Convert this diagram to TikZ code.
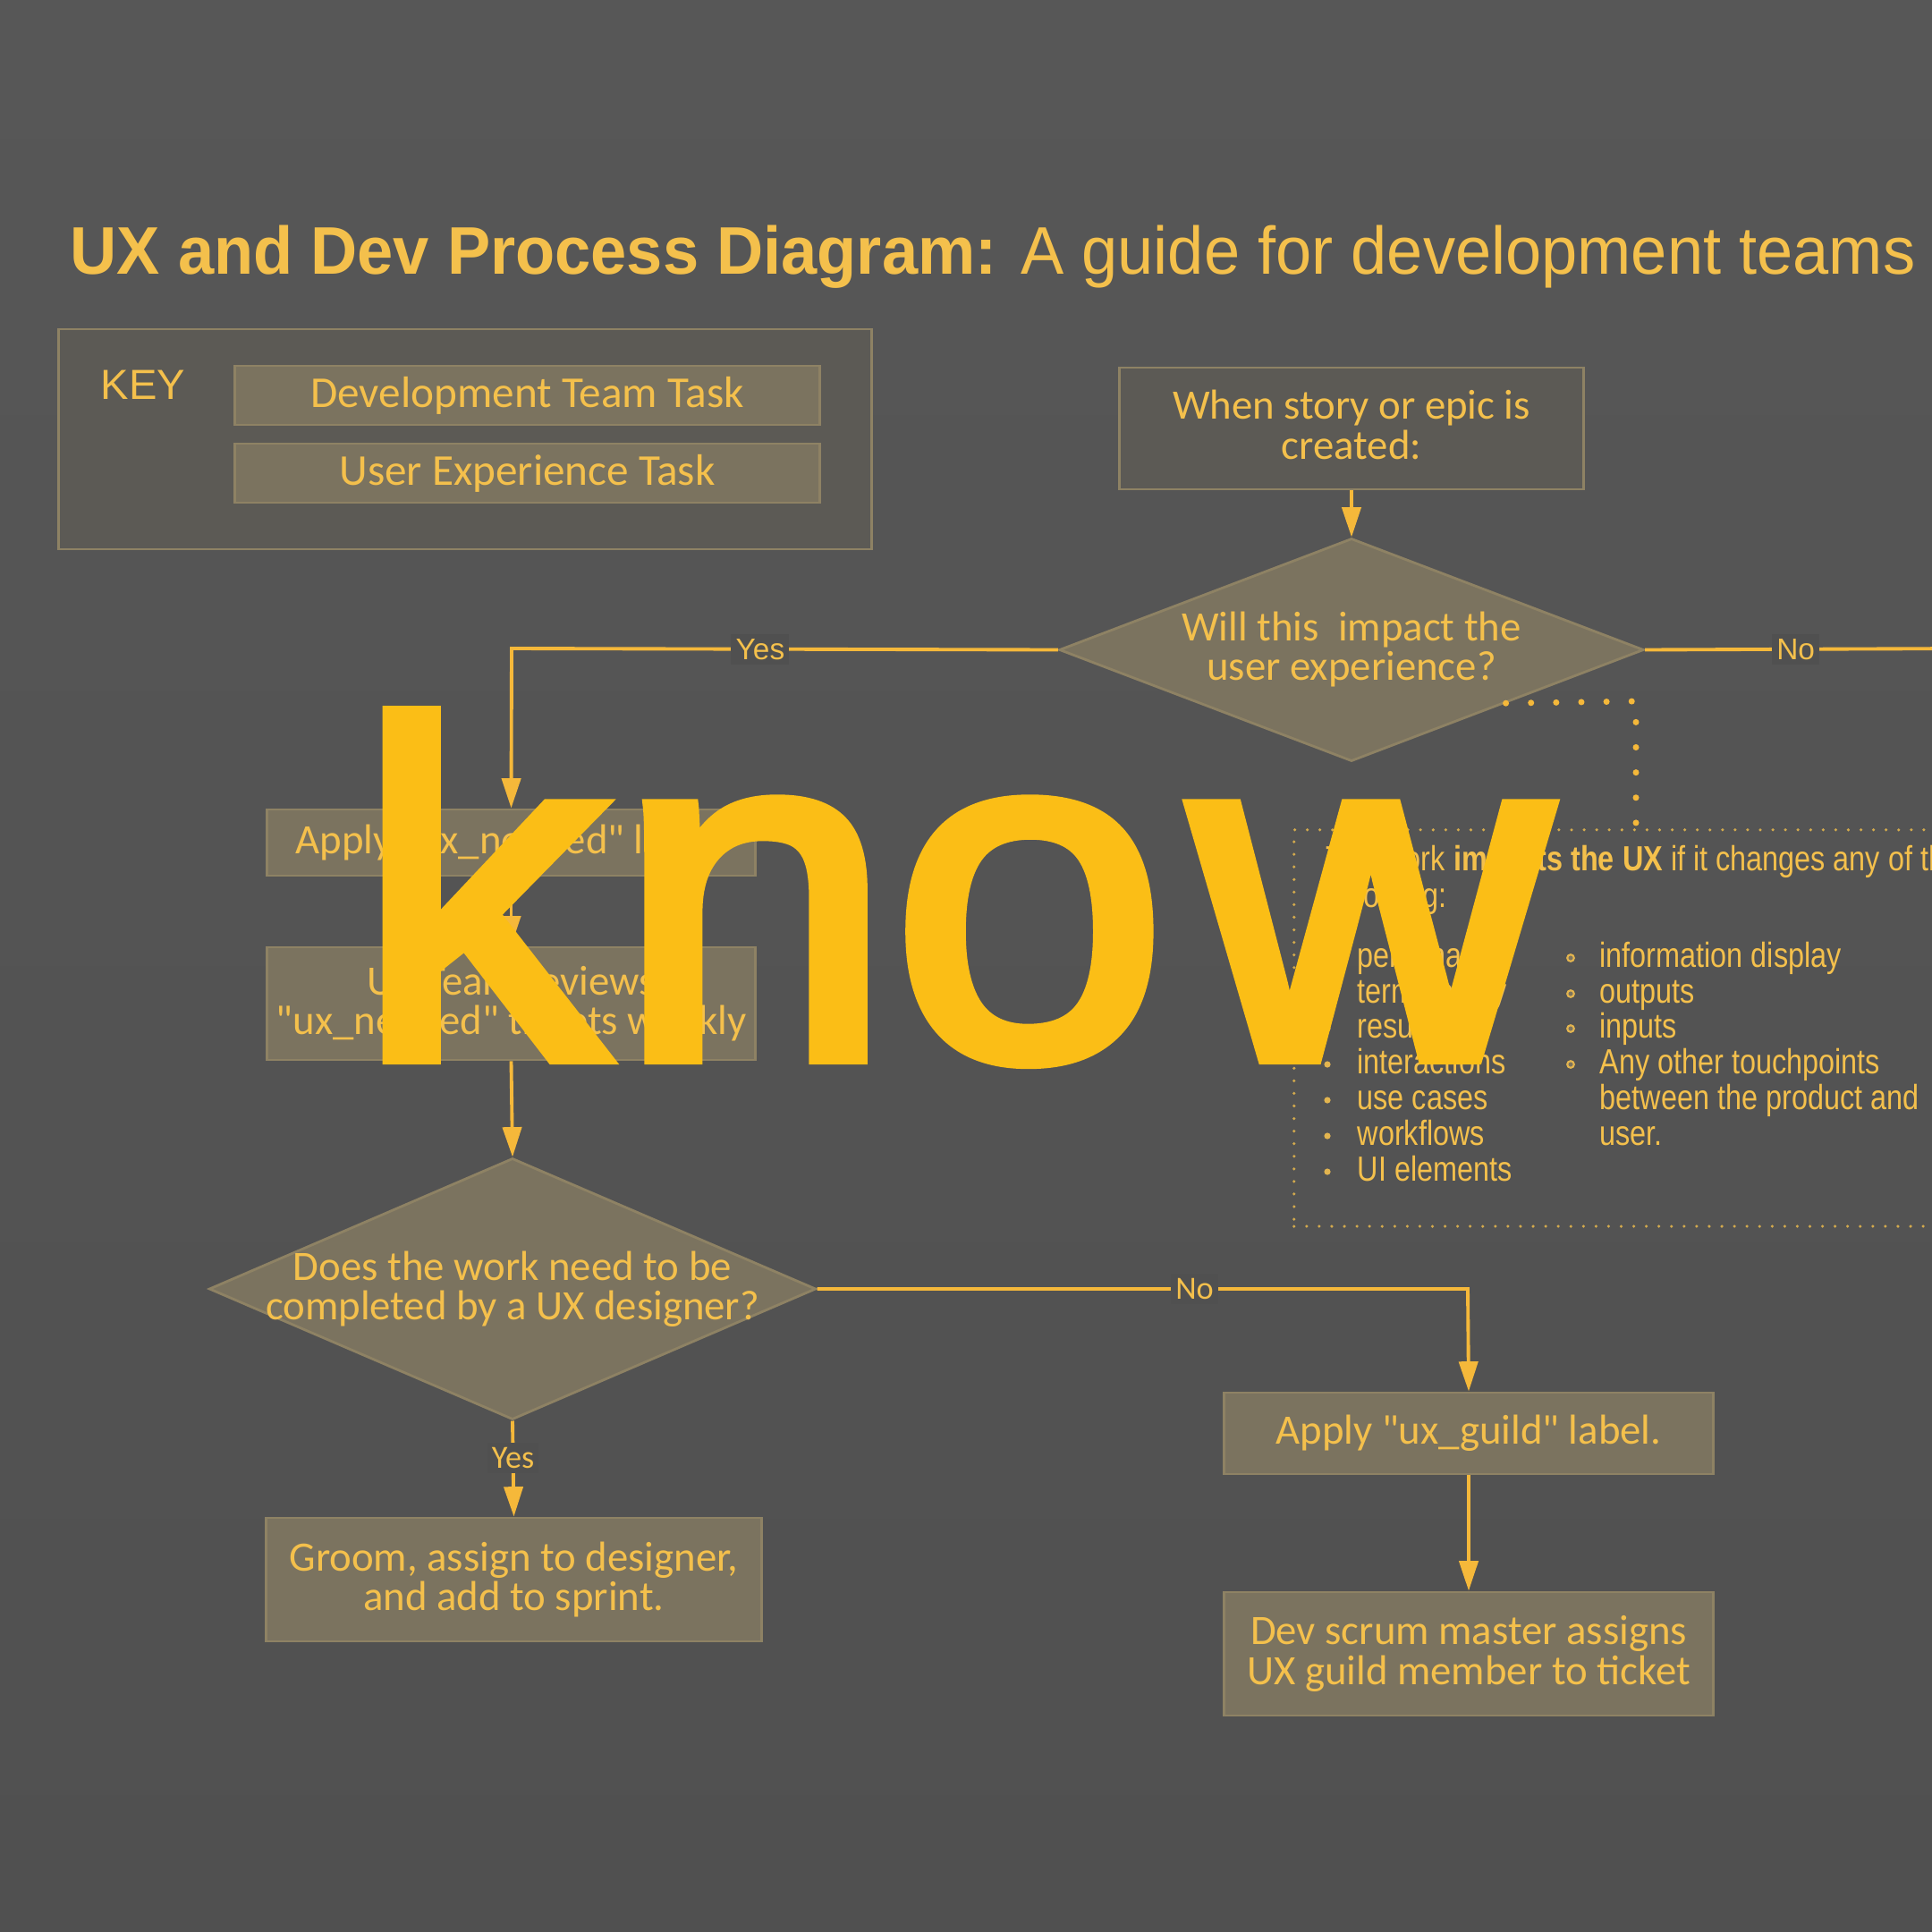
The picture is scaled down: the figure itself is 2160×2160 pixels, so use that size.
\documentclass[tikz,border=0pt]{standalone}
\usepackage{fontspec}
\setmainfont{Carlito}[Ligatures=TeXOff]
\newfontfamily\arialf{Liberation Sans}
\newfontfamily\narrowf[FakeStretch=0.83]{Liberation Sans}
\newfontfamily\titlef[FakeStretch=0.96]{Liberation Sans}
\newfontfamily\knowf[FakeBold=3]{Liberation Sans}
\usetikzlibrary{shapes.geometric,arrows.meta,calc}
\definecolor{bgc}{HTML}{505050}
\definecolor{bgtop}{HTML}{575757}
\definecolor{gold}{HTML}{F4C04C}
\definecolor{lineg}{HTML}{F5B83A}
\definecolor{tanf}{HTML}{7B735F}
\definecolor{darkbox}{HTML}{5C5A55}
\definecolor{bord}{HTML}{8E8264}
\definecolor{knowc}{HTML}{FBBE16}
\newcommand\myNodeFont{\fontsize{13.3}{12.6}\selectfont}
\newcommand\myListFont{\narrowf\fontsize{11.1}{11.4}\selectfont}
\begin{document}
\begin{tikzpicture}[x=0.01cm,y=-0.01cm,
  task/.style={draw=bord, line width=0.8pt, fill=tanf, text=gold, font=\myNodeFont, align=center, inner sep=0pt},
  startbox/.style={task, fill=darkbox},
  dec/.style={diamond, draw=bord, line width=0.8pt, fill=tanf, inner sep=0pt},
  dtext/.style={text=gold, font=\myNodeFont, align=center, inner sep=0pt},
  conn/.style={draw=lineg, line width=1.1pt, -{Triangle[length=9.5pt,width=6pt]}},
  plain/.style={draw=lineg, line width=1.1pt},
  lblA/.style={fill=bgc, inner sep=1.5pt, text=gold, font=\arialf\fontsize{9.5}{10}\selectfont},
  lblB/.style={fill=bgc, inner sep=1.5pt, text=gold, font=\fontsize{10.3}{11}\selectfont},
  listtxt/.style={anchor=base west, inner sep=0pt, text=gold, font=\myListFont},
  bulf/.style={fill=gold!85!tanf},
  bulr/.style={draw=gold!85!tanf, line width=0.6pt, fill=tanf}
]
\shade[top color=bgtop, bottom color=bgc] (0,0) rectangle (2160,2160);
\useasboundingbox (0,0) rectangle (2160,2160);

% title
\node[anchor=base west, inner sep=0pt, text=gold, font=\titlef\fontsize{21.4}{24}\selectfont] (title) at (78,306)
  {\textbf{UX and Dev Process Diagram:} A guide for development teams};

% key
\node[draw=bord, line width=0.8pt, fill=darkbox, minimum width=9.08cm, minimum height=2.46cm, inner sep=0pt] (keybox) at (520,491) {};
\node[text=gold, inner sep=0pt, font=\arialf\fontsize{13.4}{14}\selectfont] (keylbl) at (160,430) {KEY};
\node[task, minimum width=6.53cm, minimum height=0.66cm, font=\fontsize{14}{14}\selectfont] (keydev) at (589.5,442) {Development Team Task};
\node[task, minimum width=6.53cm, minimum height=0.66cm, font=\fontsize{14}{14}\selectfont] (keyux) at (589.5,529) {User Experience Task};

% flow nodes
\node[startbox, minimum width=5.18cm, minimum height=1.36cm] (start) at (1511,479) {};
\node[dtext] (startt) at (1511,475) {When story or epic is\\created:};
\node[dec, minimum width=6.53cm, minimum height=2.49cm] (d1) at (1511,726.5) {};
\node[dtext] (d1t) at (1511,726) {Will this\ \ impact the\\user experience?};

\node[task, minimum width=5.45cm, minimum height=0.74cm] (apply) at (571.5,942) {Apply "ux\_needed" label.};
\node[task, minimum width=5.45cm, minimum height=1.26cm] (review) at (571.5,1122) {UX Team reviews\\"ux\_needed" tickets weekly};

\node[dec, minimum width=6.78cm, minimum height=2.92cm] (d2) at (573,1441) {};
\node[dtext] (d2t) at (573,1441) {Does the work need to be\\completed by a UX designer?};

\node[task, minimum width=5.53cm, minimum height=1.38cm] (groom) at (574.5,1766) {Groom, assign to designer,\\and add to sprint.};
\node[task, minimum width=5.46cm, minimum height=0.91cm] (guild) at (1642,1602.5) {Apply "ux\_guild" label.};
\node[task, minimum width=5.46cm, minimum height=1.38cm] (scrum) at (1642,1849) {Dev scrum master assigns\\UX guild member to ticket};

% note box
\node[anchor=north west, draw=gold!80!bgc, line width=1pt, dash pattern=on 0pt off 4pt, line cap=round,
      minimum width=7.7cm, minimum height=4.43cm, inner sep=0pt] (note) at (1445,926) {};
\node[listtxt] (n1) at (1482,973) {The work \textbf{impacts the UX} if it changes any of the};
\node[listtxt] (n2) at (1482,1014) {following:};
\foreach \t/\y [count=\i] in {personas/1081,terminology/1121,results/1160,interactions/1200,use cases/1240,workflows/1280,UI elements/1320}{
  \node[listtxt] (la\i) at (1517,\y) {\t};
  \fill[bulf] (1484,\y-10) circle (3.6);
}
\foreach \t/\y [count=\i] in {information display/1081,outputs/1121,inputs/1160,Any other touchpoints/1200}{
  \node[listtxt] (ra\i) at (1788,\y) {\t};
  \draw[bulr] (1756,\y-10) circle (3.8);
}
\node[listtxt] (ra5) at (1788,1240) {between the product and};
\node[listtxt] (ra6) at (1788,1280) {user.};

% connectors
\coordinate (c1) at (572,725);
\coordinate (offR) at (2200,725);
\coordinate (c2) at (1641,1441);
\coordinate (dstart) at ($(d1.east)!0.474!(d1.south)$);
\coordinate (dcorner) at (1829,784);

\draw[conn] (start.south) -- (d1.north);
\draw[conn] (d1.west) -- node[lblA, pos=0.545] {Yes} (c1) -- (apply.north);
\draw[plain] (d1.east) -- node[lblA, pos=0.467] {No} (offR);
\draw[conn] (apply.south) -- (review.north);
\draw[conn] (review.south) -- (d2.north);
\draw[conn] (d2.south) -- node[lblB, pos=0.39] {Yes} (groom.north);
\draw[conn] (d2.east) -- node[lblB, pos=0.58] {No} (c2) -- (guild.north);
\draw[conn] (guild.south) -- (scrum.north);
\draw[draw=lineg, line width=2pt, dash pattern=on 0pt off 8pt, line cap=round] (dstart) -- (dcorner) -- (dcorner |- note.north);

% overlay word
\node[anchor=base west, inner sep=0pt, text=knowc, font=\knowf\fontsize{151}{160}\selectfont] (know) at (398,1182) {\scalebox{1.04}[1]{k\kern4.3pt no\kern7.8pt w}};
\end{tikzpicture}
\end{document}
